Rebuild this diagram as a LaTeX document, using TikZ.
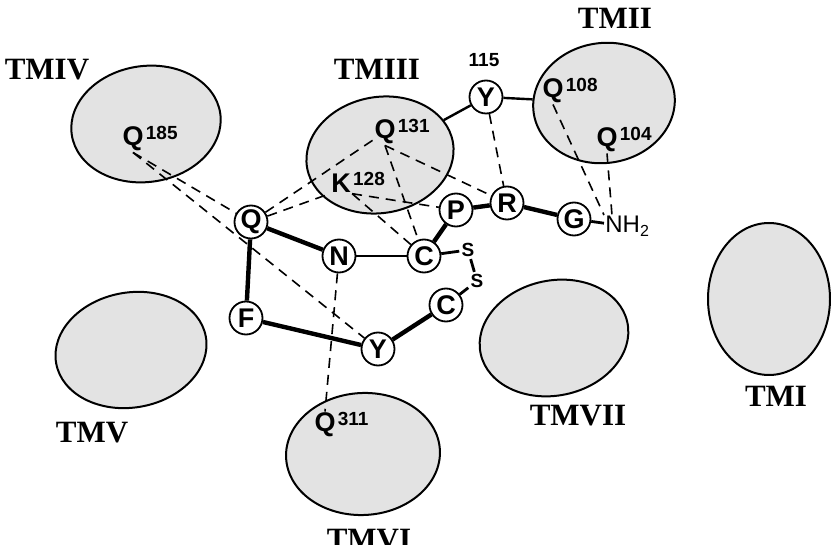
\documentclass[tikz,border=0pt]{standalone}
\usepackage{fontspec}
\setmainfont{Liberation Sans}
\newfontfamily\tmfont{Liberation Serif}
\usetikzlibrary{shapes.geometric}

\tikzset{
  helix/.style={ellipse, draw, line width=1pt, fill=black!11, inner sep=0pt},
  tmlabel/.style={inner sep=0pt, font=\tmfont\bfseries\fontsize{15.5}{17}\selectfont},
  aa/.style={circle, draw, line width=0.9pt, fill=white, minimum size=16.5pt, inner sep=0pt,
    font=\bfseries\fontsize{13.5}{15}\selectfont},
  site/.style={inner sep=0.5pt, font=\bfseries\fontsize{13.5}{15}\selectfont},
  num/.style={inner sep=0pt, anchor=north west, xshift=0.3pt, font=\bfseries\fontsize{9.5}{11}\selectfont},
  sulfur/.style={inner sep=1pt, font=\bfseries\fontsize{9.5}{10}\selectfont},
  bond/.style={line width=2.2pt},
  link/.style={line width=1.4pt},
  contact/.style={line width=0.8pt, dash pattern=on 5pt off 3.5pt},
}

\begin{document}
\begin{tikzpicture}[x=0.5pt, y=-0.5pt]
\useasboundingbox (0,0) rectangle (831,545);

% Helices
\node[helix, minimum width=75pt, minimum height=58pt, rotate=8] (tm4) at (146,124) {};
\node[helix, minimum width=74pt, minimum height=58pt, rotate=10] (tm3) at (380,155) {};
\node[helix, minimum width=71pt, minimum height=60pt, rotate=8] (tm2) at (604,103) {};
\node[helix, minimum width=76pt, minimum height=57.5pt, rotate=10] (tm5) at (131,350) {};
\node[helix, minimum width=77pt, minimum height=61pt, rotate=3] (tm6) at (363,454) {};
\node[helix, minimum width=75pt, minimum height=57.5pt, rotate=12] (tm7) at (554,338) {};
\node[helix, minimum width=61pt, minimum height=76pt] (tm1) at (769,299) {};

\node[tmlabel] (tm4lab) at (47,70) {TMIV};
\node[tmlabel] (tm3lab) at (377,69) {TMIII};
\node[tmlabel] (tm2lab) at (615,18) {TMII};
\node[tmlabel] (tm5lab) at (92,433) {TMV};
\node[tmlabel, anchor=base] (tm6lab) at (369,549) {TMVI};
\node[tmlabel] (tm7lab) at (578,416) {TMVII};
\node[tmlabel] (tm1lab) at (776,396) {TMI};

% Receptor side chains
\node[site, label={[num]north east:185}] (q185) at (133,139) {Q};
\node[site, label={[num]north east:131}] (q131) at (385,132) {Q};
\node[site, label={[num]north east:128}] (k128) at (341,183) {K};
\node[site, label={[num]north east:108}] (q108) at (553,91) {Q};
\node[site, label={[num]north east:104}] (q104) at (607,140) {Q};
\node[site, label={[num]north east:311}] (q311) at (325,425) {Q};

% Peptide
\node[aa] (qa) at (251,222) {Q};
\node[aa] (n) at (339,256) {N};
\node[aa] (c1) at (424,256) {C};
\node[aa] (p) at (456,210) {P};
\node[aa] (r) at (507,203) {R};
\node[aa] (g) at (574,219) {G};
\node[aa] (f) at (246,318) {F};
\node[aa] (y) at (378,349) {Y};
\node[aa] (c2) at (446,305) {C};
\node[aa] (y115) at (486,97) {Y};
\node[inner sep=0pt, font=\bfseries\fontsize{9.5}{11}\selectfont] (y115lab) at (484,60) {115};
\node[sulfur] (s1) at (468,250) {S};
\node[sulfur] (s2) at (477,281) {S};
\node[anchor=base west, inner sep=0.5pt, font=\fontsize{12}{13}\selectfont] (nh2) at (604,233) {NH\textsubscript{2}};

% Bonds
\draw[bond] (qa) -- (n);
\draw[bond] (c1) -- (p) -- (r) -- (g);
\draw[bond] (qa) -- (f) -- (y) -- (c2);
\draw[link] (n) -- (c1);
\draw[link] (c1) -- (s1);
\draw[link] (s1) -- (s2);
\draw[link] (s2) -- (c2);
\draw[link] (g) -- (nh2);
\draw[line width=1.2pt] (y115) -- (tm3);
\draw[line width=1.2pt] (y115) -- (tm2);

% Contacts
\draw[contact] (q185.south) -- (qa);
\draw[contact] (q185.south) -- (y);
\draw[contact] (qa) -- (k128.south west);
\draw[contact] (qa) -- (q131);
\draw[contact] (q131.south) -- (c1);
\draw[contact] (q131.south) -- (r);
\draw[contact] (k128.south east) -- (p);
\draw[contact] (k128.south east) -- (c1);
\draw[contact] (y115) -- (r);
\draw[contact] (q108.south) -- (nh2.north west);
\draw[contact] (q104.south) -- ([xshift=4pt]nh2.north west);
\draw[contact] (n) -- (q311.north);

\end{tikzpicture}
\end{document}
